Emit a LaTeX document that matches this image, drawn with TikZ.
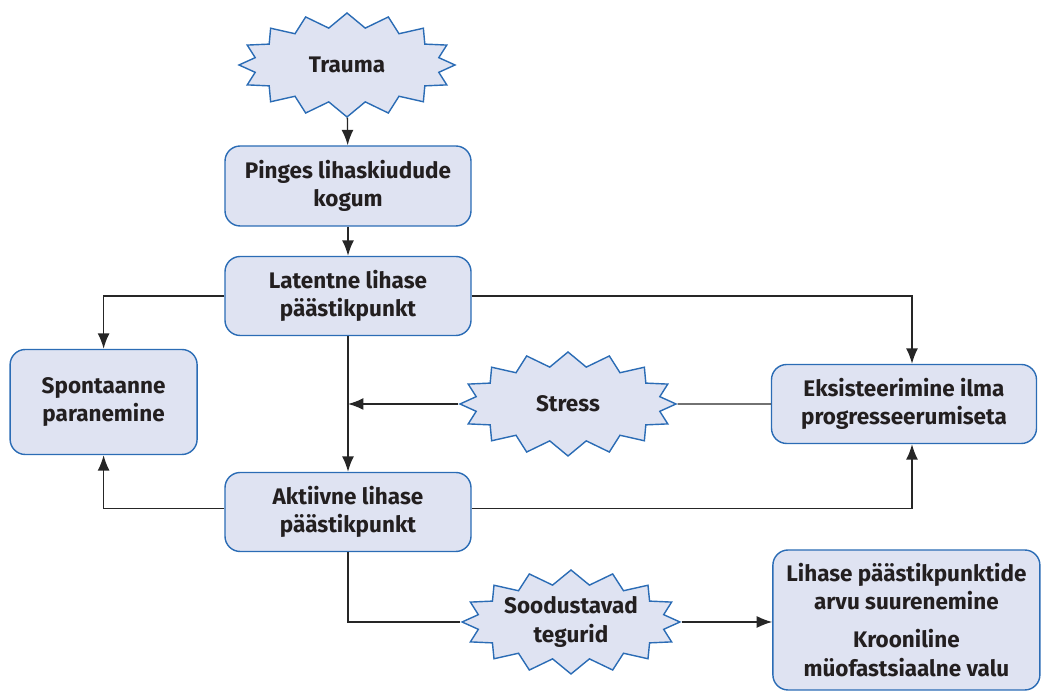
\documentclass[tikz,border=0pt]{standalone}
\usepackage{fontspec}
\setmainfont{Fira Sans}
\usetikzlibrary{positioning,arrows.meta,calc,shapes.symbols}
\definecolor{boxfill}{HTML}{DFE3F2}
\definecolor{boxline}{HTML}{2B6CB5}
\definecolor{txtdark}{HTML}{231F20}
\definecolor{linegray}{HTML}{262626}
\tikzset{
  lbl/.style={align=center,text=txtdark,font=\fontsize{16}{20}\selectfont\bfseries,inner sep=0pt},
  stepbox/.style={lbl,draw=boxline,fill=boxfill,line width=1pt,rounded corners=0.38cm},
  burst/.style={lbl,starburst,random starburst=0,starburst points=16,
    starburst point height=0.36cm,draw=boxline,fill=boxfill,line width=1pt,
    minimum width=5.4cm,minimum height=2.6cm},
  conn/.style={draw=linegray,line width=1pt},
  arr/.style={conn,-{Latex[length=11pt,width=8.5pt]}},
}
\begin{document}
\begin{tikzpicture}
  \useasboundingbox (0,0) rectangle (26.175,17.3);
  % main column
  \node[burst] (trauma) at (8.675,15.675) {Trauma};
  \node[stepbox,minimum width=6.15cm,minimum height=2cm] (pinges) at (8.7,12.65) {Pinges lihaskiudude\\kogum};
  \node[stepbox,minimum width=6.15cm,minimum height=1.975cm] (latent) at (8.7,9.9) {Latentne lihase\\päästikpunkt};
  \node[stepbox,minimum width=6.15cm,minimum height=1.975cm] (aktiiv) at (8.7,4.5) {Aktiivne lihase\\päästikpunkt};
  % side outcomes
  \node[stepbox,minimum width=4.675cm,minimum height=2.625cm] (spont) at (2.59,7.25) {Spontaanne\\paranemine};
  \node[stepbox,minimum width=6.625cm,minimum height=1.975cm] (eksist) at (22.6,7.2) {Eksisteerimine ilma\\progresseerumiseta};
  \node[burst] (stress) at (14.2,7.2) {Stress};
  \node[burst] (sood) at (14.275,1.75) {Soodustavad\\tegurid};
  \node[stepbox,minimum width=6.675cm,minimum height=3.5cm] (krooni) at (22.66,1.8)
    {Lihase päästikpunktide\\arvu suurenemine\\[7pt]Krooniline\\müofastsiaalne valu};
  \coordinate (mid) at (latent.south |- stress.west);
  % connectors
  \draw[arr] (trauma) -- (pinges);
  \draw[arr] (pinges) -- (latent);
  \draw[arr] (latent) -- (aktiiv);
  \draw[arr] (latent.west) -| (spont.north);
  \draw[arr] (latent.east) -| ([xshift=0.2cm]eksist.north);
  \draw[arr] ([yshift=0.08cm]aktiiv.west) -| (spont.south);
  \draw[arr] ([yshift=0.08cm]aktiiv.east) -| ([xshift=0.2cm]eksist.south);
  \draw[arr] (stress.west) -- (mid);
  \draw[conn] (eksist.west) -- (stress.east);
  \draw[conn] (aktiiv.south) |- (sood.west);
  \draw[arr] (sood.east) -- (sood.east -| krooni.west);
\end{tikzpicture}
\end{document}
